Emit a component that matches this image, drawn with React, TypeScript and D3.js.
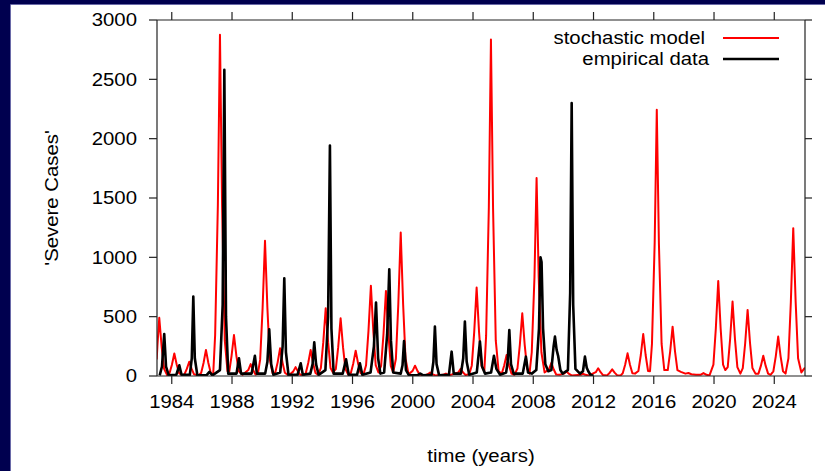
import React from "react";
import * as d3 from "d3";

const xTicks = [1984, 1988, 1992, 1996, 2000, 2004, 2008, 2012, 2016, 2020, 2024];
const yTicks = [0, 500, 1000, 1500, 2000, 2500, 3000];
const seriesNames = ["stochastic model", "empirical data"];

// stochastic model: [year, severe cases]
const modelData: [number, number][] = [
  [1983.0, 140], [1983.05, 260], [1983.17, 490], [1983.33, 245], [1983.49, 60], [1983.7, 5],
  [1983.85, 23], [1984.01, 95], [1984.17, 190], [1984.33, 95], [1984.49, 23], [1984.7, 5],
  [1984.84, 14], [1985.0, 60], [1985.16, 120], [1985.32, 60], [1985.48, 14], [1985.75, 5],
  [1985.95, 26], [1986.11, 110], [1986.27, 220], [1986.43, 110], [1986.59, 26], [1986.75, 10],
  [1986.88, 345], [1987.06, 1437], [1987.2, 2875], [1987.34, 1437], [1987.52, 300], [1987.7, 40], [1987.82, 40],
  [1987.97, 170], [1988.13, 345], [1988.29, 170], [1988.45, 40], [1988.7, 10],
  [1989.08, 50], [1989.24, 100], [1989.4, 50], [1989.56, 12], [1989.72, 20],
  [1989.87, 140], [1990.03, 570], [1990.19, 1140], [1990.35, 570], [1990.51, 140], [1990.7, 20],
  [1990.87, 28], [1991.03, 115], [1991.19, 233], [1991.35, 115], [1991.51, 28], [1991.75, 5],
  [1992.06, 37], [1992.22, 75], [1992.38, 37], [1992.54, 10], [1992.75, 5],
  [1992.9, 26], [1993.06, 110], [1993.22, 220], [1993.38, 110], [1993.54, 26], [1993.72, 10],
  [1993.9, 68], [1994.06, 285], [1994.22, 570], [1994.38, 285], [1994.54, 68], [1994.7, 30],
  [1994.89, 58], [1995.05, 243], [1995.21, 486], [1995.37, 243], [1995.53, 58], [1995.72, 10],
  [1995.89, 26], [1996.05, 106], [1996.21, 213], [1996.37, 106], [1996.53, 26], [1996.72, 10],
  [1996.9, 91], [1997.06, 380], [1997.22, 760], [1997.38, 380], [1997.54, 91], [1997.72, 30],
  [1997.9, 86], [1998.06, 358], [1998.22, 717], [1998.38, 358], [1998.54, 86], [1998.7, 30],
  [1998.88, 145], [1999.04, 605], [1999.2, 1209], [1999.36, 605], [1999.52, 145], [1999.72, 15],
  [1999.99, 43], [2000.15, 87], [2000.31, 43], [2000.47, 10], [2000.8, 5],
  [2001.0, 15], [2001.15, 30], [2001.3, 15], [2001.5, 5],
  [2002.0, 10], [2002.2, 20], [2002.4, 5],
  [2003.02, 30], [2003.18, 60], [2003.34, 30], [2003.5, 8], [2003.75, 15],
  [2003.92, 89], [2004.08, 372], [2004.24, 745], [2004.4, 372], [2004.56, 89], [2004.75, 40],
  [2004.87, 340], [2005.05, 1417], [2005.19, 2835], [2005.33, 1417], [2005.51, 300], [2005.7, 40],
  [2005.91, 21], [2006.07, 88], [2006.23, 177], [2006.39, 88], [2006.55, 21], [2006.75, 10],
  [2006.95, 63], [2007.11, 265], [2007.27, 529], [2007.43, 265], [2007.59, 63], [2007.75, 20],
  [2007.9, 200], [2008.08, 834], [2008.22, 1668], [2008.36, 834], [2008.54, 200], [2008.75, 30],
  [2009.04, 55], [2009.2, 110], [2009.36, 55], [2009.52, 13], [2009.75, 10],
  [2010.05, 20], [2010.2, 40], [2010.35, 20], [2010.55, 5],
  [2011.15, 10], [2011.3, 20], [2011.45, 10], [2011.7, 5],
  [2012.15, 32], [2012.31, 65], [2012.47, 32], [2012.63, 8], [2012.9, 5],
  [2013.08, 28], [2013.24, 56], [2013.4, 28], [2013.56, 7], [2013.8, 5],
  [2013.94, 23], [2014.1, 95], [2014.26, 191], [2014.42, 95], [2014.58, 23], [2014.75, 20],
  [2014.98, 42], [2015.14, 177], [2015.3, 354], [2015.46, 177], [2015.62, 42], [2015.75, 40],
  [2015.88, 270], [2016.06, 1122], [2016.2, 2244], [2016.34, 1122], [2016.52, 270], [2016.7, 50],
  [2016.93, 50], [2017.09, 208], [2017.25, 416], [2017.41, 208], [2017.57, 50], [2017.8, 35],
  [2018.1, 20], [2018.3, 25], [2018.5, 15], [2018.8, 10],
  [2019.1, 10], [2019.3, 25], [2019.5, 10], [2019.7, 5],
  [2019.96, 96], [2020.12, 400], [2020.28, 801], [2020.44, 400], [2020.6, 96], [2020.75, 50],
  [2020.91, 75], [2021.07, 313], [2021.23, 627], [2021.39, 313], [2021.55, 75], [2021.75, 20],
  [2021.91, 67], [2022.07, 278], [2022.23, 557], [2022.39, 278], [2022.55, 67], [2022.75, 20],
  [2022.95, 20], [2023.11, 85], [2023.27, 171], [2023.43, 85], [2023.59, 20], [2023.75, 10],
  [2023.94, 40], [2024.1, 166], [2024.26, 332], [2024.42, 166], [2024.58, 40], [2024.75, 20],
  [2024.94, 150], [2025.1, 623], [2025.26, 1246], [2025.42, 623], [2025.58, 150], [2025.8, 30],
  [2026.04, 70],
];

// empirical data: [year, severe cases]
const empiricalData: [number, number][] = [
  [1983.2, 5], [1983.35, 80], [1983.5, 354], [1983.62, 80], [1983.8, 5],
  [1984.3, 10], [1984.5, 90], [1984.65, 10],
  [1985.2, 10], [1985.33, 150], [1985.43, 670], [1985.53, 150], [1985.7, 5],
  [1986.3, 5], [1986.5, 35], [1986.7, 5],
  [1987.2, 50], [1987.38, 600], [1987.49, 2580], [1987.6, 500], [1987.75, 20],
  [1988.3, 20], [1988.46, 150], [1988.6, 20],
  [1989.3, 20], [1989.52, 170], [1989.65, 20],
  [1990.2, 20], [1990.35, 120], [1990.47, 393], [1990.6, 100], [1990.75, 10],
  [1991.2, 30], [1991.36, 250], [1991.47, 824], [1991.58, 200], [1991.75, 10],
  [1992.35, 10], [1992.56, 107], [1992.7, 10],
  [1993.2, 20], [1993.35, 100], [1993.46, 284], [1993.58, 100], [1993.75, 10],
  [1994.2, 50], [1994.38, 500], [1994.5, 1943], [1994.6, 400], [1994.75, 20],
  [1995.35, 20], [1995.57, 141], [1995.75, 10],
  [1996.3, 10], [1996.49, 107], [1996.65, 10],
  [1997.2, 30], [1997.42, 250], [1997.56, 619], [1997.7, 150], [1997.85, 20],
  [1998.1, 30], [1998.3, 350], [1998.44, 900], [1998.55, 300], [1998.7, 30],
  [1999.2, 20], [1999.32, 90], [1999.42, 295], [1999.55, 50], [1999.75, 5],
  [2000.3, 5], [2000.5, 20], [2000.7, 5],
  [2001.25, 10], [2001.37, 120], [2001.47, 416], [2001.58, 100], [2001.75, 5],
  [2002.4, 10], [2002.58, 205], [2002.72, 20],
  [2003.2, 20], [2003.35, 150], [2003.46, 458], [2003.58, 120], [2003.75, 10],
  [2004.25, 30], [2004.46, 290], [2004.6, 80], [2004.8, 20],
  [2005.2, 30], [2005.39, 171], [2005.55, 60], [2005.8, 10],
  [2006.2, 30], [2006.3, 120], [2006.41, 388], [2006.52, 100], [2006.7, 20],
  [2007.3, 20], [2007.51, 163], [2007.65, 30], [2007.9, 20],
  [2008.2, 50], [2008.38, 400], [2008.48, 1001], [2008.55, 960], [2008.65, 400], [2008.8, 100],
  [2009.0, 40], [2009.2, 50], [2009.35, 250], [2009.44, 332], [2009.55, 220], [2009.65, 170],
  [2009.8, 50], [2009.95, 20],
  [2010.3, 50], [2010.45, 700], [2010.55, 2300], [2010.65, 600], [2010.8, 60],
  [2011.1, 20], [2011.3, 40], [2011.43, 163], [2011.55, 70], [2011.65, 40], [2011.8, 10],
  [2012.0, 0],
];

const W = 825;
const H = 471;
const left = 157, right = 805, top = 20, bottom = 376;
const FONT = "'Liberation Sans', Arial, Helvetica, sans-serif";
const FS = 18.5;
const SX = 1.1;

function Label(props: {
  x: number;
  y: number;
  anchor: "start" | "middle" | "end";
  rotate?: boolean;
  dy?: string;
  children: React.ReactNode;
}) {
  const { x, y, anchor, rotate, dy, children } = props;
  const tr = rotate
    ? `translate(${x},${y}) rotate(-90) scale(${SX},1)`
    : `translate(${x},${y}) scale(${SX},1)`;
  return (
    <text transform={tr} fontSize={FS} textAnchor={anchor} dy={dy} fill="#000">
      {children}
    </text>
  );
}

export default function App() {
  const x = d3.scaleLinear().domain([1983.02, 2026.04]).range([left, right]);
  const y = d3.scaleLinear().domain([0, 3000]).range([bottom, top]);
  const line = d3
    .line<[number, number]>()
    .x((d) => x(d[0]))
    .y((d) => y(d[1]));
  const tk = 8;
  return (
    <svg
      width={W}
      height={H}
      style={{ position: "absolute", left: 0, top: 0, display: "block" }}
      fontFamily={FONT}
    >
      <rect x={0} y={0} width={W} height={H} fill="#00004f" />
      <rect x={11} y={5} width={W - 11} height={H - 5} fill="#ffffff" />
      <line x1={10.5} y1={4.5} x2={W} y2={4.5} stroke="#6a6aa8" strokeWidth={1} />
      <line x1={10.5} y1={4.5} x2={10.5} y2={H} stroke="#6a6aa8" strokeWidth={1} />

      <defs>
        <clipPath id="plotclip">
          <rect x={left} y={top - 2} width={right - left} height={bottom - top + 2} />
        </clipPath>
      </defs>

      <g clipPath="url(#plotclip)">
        <path d={line(modelData) || ""} fill="none" stroke="#ff0000" strokeWidth={2} strokeLinejoin="round" />
        <path d={line(empiricalData) || ""} fill="none" stroke="#000000" strokeWidth={2.6} strokeLinejoin="round" />
      </g>

      {/* frame */}
      <g stroke="#222" strokeWidth={1.2} fill="none">
        <line x1={left} y1={top} x2={right} y2={top} />
        <line x1={left} y1={bottom} x2={right} y2={bottom} />
        <line x1={left} y1={top} x2={left} y2={bottom} />
        <line x1={right} y1={top} x2={right} y2={bottom} />
        {xTicks.map((t) => (
          <g key={"xt" + t}>
            <line x1={x(t)} x2={x(t)} y1={bottom} y2={bottom + tk} />
            <line x1={x(t)} x2={x(t)} y1={top} y2={top - tk} />
          </g>
        ))}
        {yTicks.map((t) => (
          <g key={"yt" + t}>
            <line x1={left - tk} x2={left} y1={y(t)} y2={y(t)} />
            <line x1={right} x2={right + tk - 1} y1={y(t)} y2={y(t)} />
          </g>
        ))}
      </g>

      {xTicks.map((t) => (
        <Label key={"xl" + t} x={x(t)} y={bottom + 32} anchor="middle">
          {t}
        </Label>
      ))}
      {yTicks.map((t) => (
        <Label key={"yl" + t} x={left - 20} y={y(t)} dy="0.35em" anchor="end">
          {t}
        </Label>
      ))}

      <Label x={(left + right) / 2} y={462} anchor="middle">
        time (years)
      </Label>
      <Label x={58} y={(top + bottom) / 2} anchor="middle" rotate>
        'Severe Cases'
      </Label>

      {/* legend */}
      <Label x={705} y={38} dy="0.35em" anchor="end">
        {seriesNames[0]}
      </Label>
      <line x1={723} x2={779} y1={38} y2={38} stroke="#ff0000" strokeWidth={2} />
      <Label x={709} y={59} dy="0.35em" anchor="end">
        {seriesNames[1]}
      </Label>
      <line x1={723} x2={779} y1={59} y2={59} stroke="#000" strokeWidth={2.6} />
    </svg>
  );
}
